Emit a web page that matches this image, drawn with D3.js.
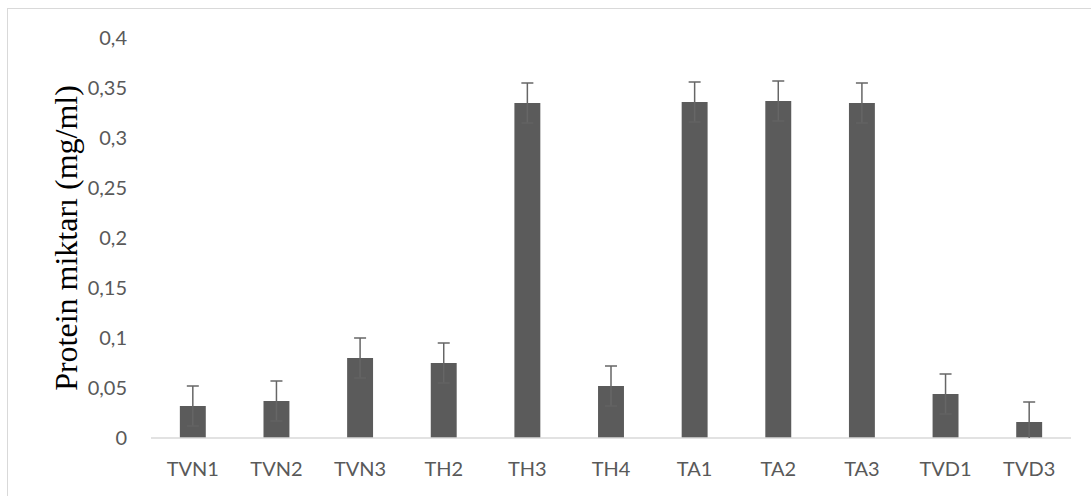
<!DOCTYPE html>
<html>
<head>
<meta charset="utf-8">
<script src="https://cdn.jsdelivr.net/npm/d3@7"></script>
<style>
  body { margin: 0; background: #fff; }
  svg { display: block; }
</style>
</head>
<body>
<div id="chart"></div>
<script>
const categories = ["TVN1", "TVN2", "TVN3", "TH2", "TH3", "TH4", "TA1", "TA2", "TA3", "TVD1", "TVD3"];
const values = [0.032, 0.037, 0.080, 0.075, 0.335, 0.052, 0.336, 0.337, 0.335, 0.044, 0.016];
const errors = [0.02, 0.02, 0.02, 0.02, 0.02, 0.02, 0.02, 0.02, 0.02, 0.02, 0.02];
const yTicks = [0, 0.05, 0.1, 0.15, 0.2, 0.25, 0.3, 0.35, 0.4];

const width = 1091, height = 496;
const margin = {top: 38, right: 20, bottom: 58, left: 151};

const svg = d3.select("#chart").append("svg")
    .attr("width", width)
    .attr("height", height);

// chart frame
svg.append("rect")
    .attr("x", 7.5).attr("y", 8.5)
    .attr("width", 1090).attr("height", 500)
    .attr("fill", "none")
    .attr("stroke", "#d9d9d9");

const x = d3.scaleBand()
    .domain(categories)
    .range([margin.left, width - margin.right])
    .paddingInner(0.69)
    .paddingOuter(0.345);

const y = d3.scaleLinear()
    .domain([0, 0.4])
    .range([height - margin.bottom, margin.top]);

const fmt = d => String(d).replace(".", ",");
const tickFont = "20px Lato, 'Open Sans', sans-serif";

// y tick labels
svg.append("g")
  .selectAll("text")
  .data(yTicks)
  .join("text")
    .attr("x", 127)
    .attr("y", d => y(d))
    .attr("dy", "0.35em")
    .attr("text-anchor", "end")
    .attr("fill", "#595959")
    .style("font", tickFont)
    .text(fmt);

// bars
svg.append("g")
  .selectAll("rect")
  .data(categories)
  .join("rect")
    .attr("x", d => x(d))
    .attr("y", (d, i) => y(values[i]))
    .attr("width", x.bandwidth())
    .attr("height", (d, i) => y(0) - y(values[i]))
    .attr("fill", "#5b5b5b");

// baseline
svg.append("line")
    .attr("x1", margin.left).attr("x2", width - margin.right)
    .attr("y1", y(0)).attr("y2", y(0))
    .attr("stroke", "#d9d9d9")
    .attr("stroke-width", 1.5);

// error bars
const err = svg.append("g")
    .attr("stroke", "#666")
    .attr("stroke-width", 1.5)
  .selectAll("g")
  .data(categories)
  .join("g")
    .attr("transform", d => `translate(${x(d) + x.bandwidth() / 2},0)`);

const lo = i => y(Math.max(0, values[i] - errors[i]));
const hi = i => y(values[i] + errors[i]);

err.append("line")
    .attr("y1", (d, i) => lo(i))
    .attr("y2", (d, i) => hi(i));
err.append("line")
    .attr("x1", -6).attr("x2", 6)
    .attr("y1", (d, i) => hi(i))
    .attr("y2", (d, i) => hi(i));
err.filter((d, i) => values[i] - errors[i] > 0)
  .append("line")
    .attr("x1", -6).attr("x2", 6)
    .attr("stroke", "#626262")
    .attr("y1", (d, i) => lo(i))
    .attr("y2", (d, i) => lo(i));

// x labels
svg.append("g")
  .selectAll("text")
  .data(categories)
  .join("text")
    .attr("x", d => x(d) + x.bandwidth() / 2)
    .attr("y", 476)
    .attr("text-anchor", "middle")
    .attr("fill", "#595959")
    .style("font", tickFont)
    .text(d => d);

// y axis title
svg.append("text")
    .attr("transform", `translate(77,238) rotate(-90)`)
    .attr("text-anchor", "middle")
    .attr("fill", "#000")
    .style("font", "32px 'Liberation Serif', 'Times New Roman', serif")
    .text("Protein miktarı (mg/ml)");
</script>
</body>
</html>
